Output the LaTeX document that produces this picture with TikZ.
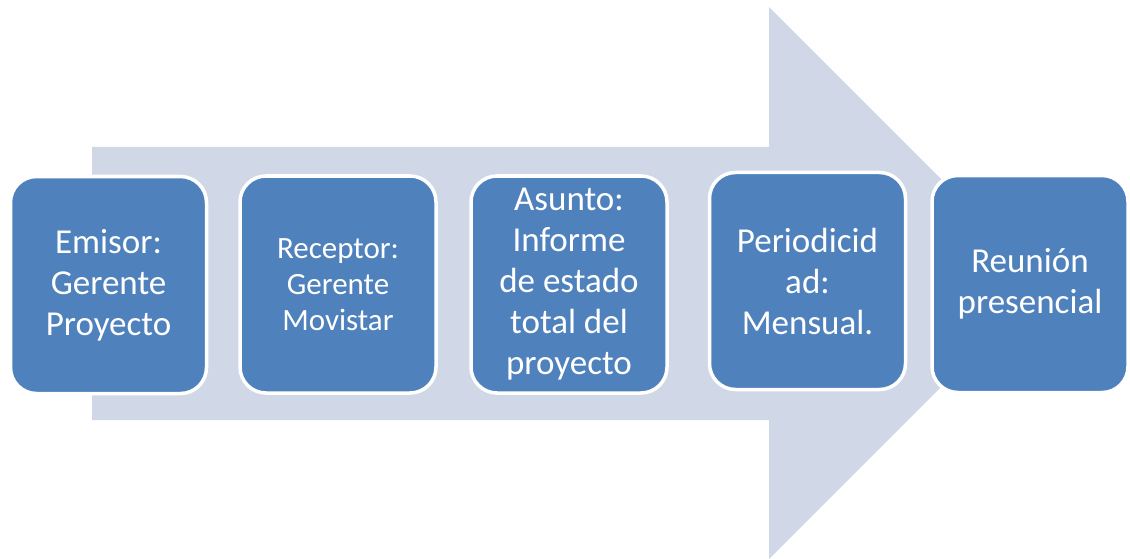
\documentclass[tikz,border=0pt]{standalone}
\usepackage{fontspec}
\setmainfont{Carlito}
\definecolor{boxblue}{HTML}{4F81BD}
\definecolor{arrowgrey}{HTML}{D0D8E8}
\begin{document}
\begin{tikzpicture}[x=1pt,y=-1pt,
  stepbox/.style={draw=white, line width=3.5pt, fill=boxblue, rounded corners=26pt,
    minimum width=196pt, minimum height=217pt, inner sep=0pt,
    text=white, align=center, font=\fontsize{35}{41}\selectfont},
  smalltext/.style={font=\fontsize{31}{36}\selectfont}]
\useasboundingbox (0,0) rectangle (1130,559);
% big arrow
\fill[arrowgrey] (92,147) -- (769,147) -- (769,7) -- (1045,283) -- (769,559) -- (769,420) -- (92,420) -- cycle;
% boxes
\node[stepbox] (b1) at (108.5,285) {Emisor:\\Gerente\\Proyecto};
\node[stepbox, smalltext] (b2) at (338,284.5) {Receptor:\\Gerente\\Movistar};
\node[stepbox] (b3) at (569,284.5) {Asunto:\\Informe\\de estado\\total del\\proyecto};
\node[stepbox] (b4) at (807.5,281) {Periodicid\\ad:\\Mensual.};
\node[stepbox] (b5) at (1030,284) {Reunión\\presencial};
\end{tikzpicture}
\end{document}
